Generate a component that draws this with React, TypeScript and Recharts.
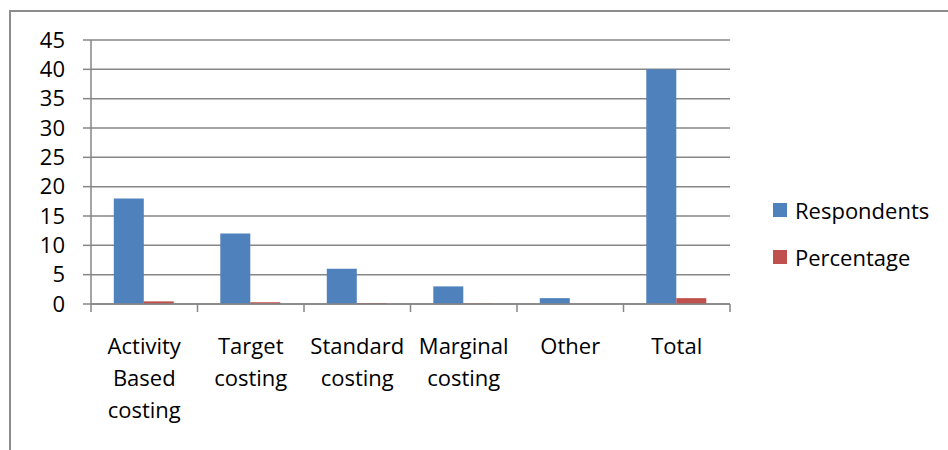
import { BarChart, Bar, XAxis, YAxis, CartesianGrid } from 'recharts'

const categories = ['Activity Based costing', 'Target costing', 'Standard costing', 'Marginal costing', 'Other', 'Total']
const respondents = [18, 12, 6, 3, 1, 40]
const percentage = [0.45, 0.3, 0.15, 0.075, 0.025, 1]
const yTicks = [0, 5, 10, 15, 20, 25, 30, 35, 40, 45]

const data = categories.map((name, i) => ({
  name,
  respondents: respondents[i],
  percentage: percentage[i],
}))

const FONT = '"Open Sans", sans-serif'
const GRID = '#868686'
const BLUE = '#4F81BD'
const RED = '#C0504D'

const W = 948
const H = 450
const X_AXIS_H = 30
const Y_AXIS_W = 60
const MARGIN = { top: 40, right: 218, bottom: 146 - X_AXIS_H, left: 31 }
const PLOT_W = W - MARGIN.left - Y_AXIS_W - MARGIN.right

const legendItems = [
  { label: 'Respondents', color: BLUE },
  { label: 'Percentage', color: RED },
]

// category label, one word per line, plus the tick marks on the band edges
function CategoryTick(props: any) {
  const { x, y, payload, index } = props
  const band = PLOT_W / categories.length
  const words = String(payload.value).split(' ')
  const axisY = y - 8
  return (
    <g>
      <line x1={x - band / 2} x2={x - band / 2} y1={axisY} y2={axisY + 8} stroke={GRID} strokeWidth={1.5} />
      {index === categories.length - 1 && (
        <line x1={x + band / 2} x2={x + band / 2} y1={axisY} y2={axisY + 8} stroke={GRID} strokeWidth={1.5} />
      )}
      <text x={x} y={axisY + 50} textAnchor="middle" fontSize={22} fontFamily={FONT} fill="#000">
        {words.map((w, i) => (
          <tspan key={i} x={x} dy={i === 0 ? 0 : 32}>{w}</tspan>
        ))}
      </text>
    </g>
  )
}

function LegendBox() {
  return (
    <div style={{ position: 'absolute', left: 773, top: 186, fontFamily: FONT, fontSize: 22, color: '#000' }}>
      {legendItems.map((it) => (
        <div key={it.label} style={{ display: 'flex', alignItems: 'center', height: 47 }}>
          <span style={{ width: 14, height: 14, background: it.color, marginRight: 8 }} />
          <span>{it.label}</span>
        </div>
      ))}
    </div>
  )
}

export default function App() {
  return (
    <div style={{ position: 'fixed', left: 0, top: 0, width: W, height: H, overflow: 'hidden', background: '#fff' }}>
      <div
        style={{
          position: 'absolute',
          left: 9,
          top: 10,
          width: W + 20,
          height: H + 20,
          border: '2px solid #8c8c8c',
          boxSizing: 'border-box',
        }}
      />
      <div style={{ position: 'absolute', left: 0, top: 0 }}>
        <BarChart width={W} height={H} data={data} margin={MARGIN} barCategoryGap="21.4%" barGap={0}>
          <CartesianGrid vertical={false} stroke={GRID} strokeWidth={1.5} />
          <XAxis
            dataKey="name"
            height={X_AXIS_H}
            stroke={GRID}
            strokeWidth={1.5}
            tickLine={false}
            tickSize={8}
            tickMargin={0}
            interval={0}
            tick={<CategoryTick />}
          />
          <YAxis
            width={Y_AXIS_W}
            domain={[0, 45]}
            ticks={yTicks}
            interval={0}
            stroke={GRID}
            strokeWidth={1.5}
            tickSize={8}
            tickMargin={18}
            tick={{ fontSize: 22, fontFamily: FONT, fill: '#000' }}
          />
          <Bar dataKey="respondents" name="Respondents" fill={BLUE} isAnimationActive={false} />
          <Bar dataKey="percentage" name="Percentage" fill={RED} isAnimationActive={false} />
        </BarChart>
      </div>
      <LegendBox />
    </div>
  )
}
